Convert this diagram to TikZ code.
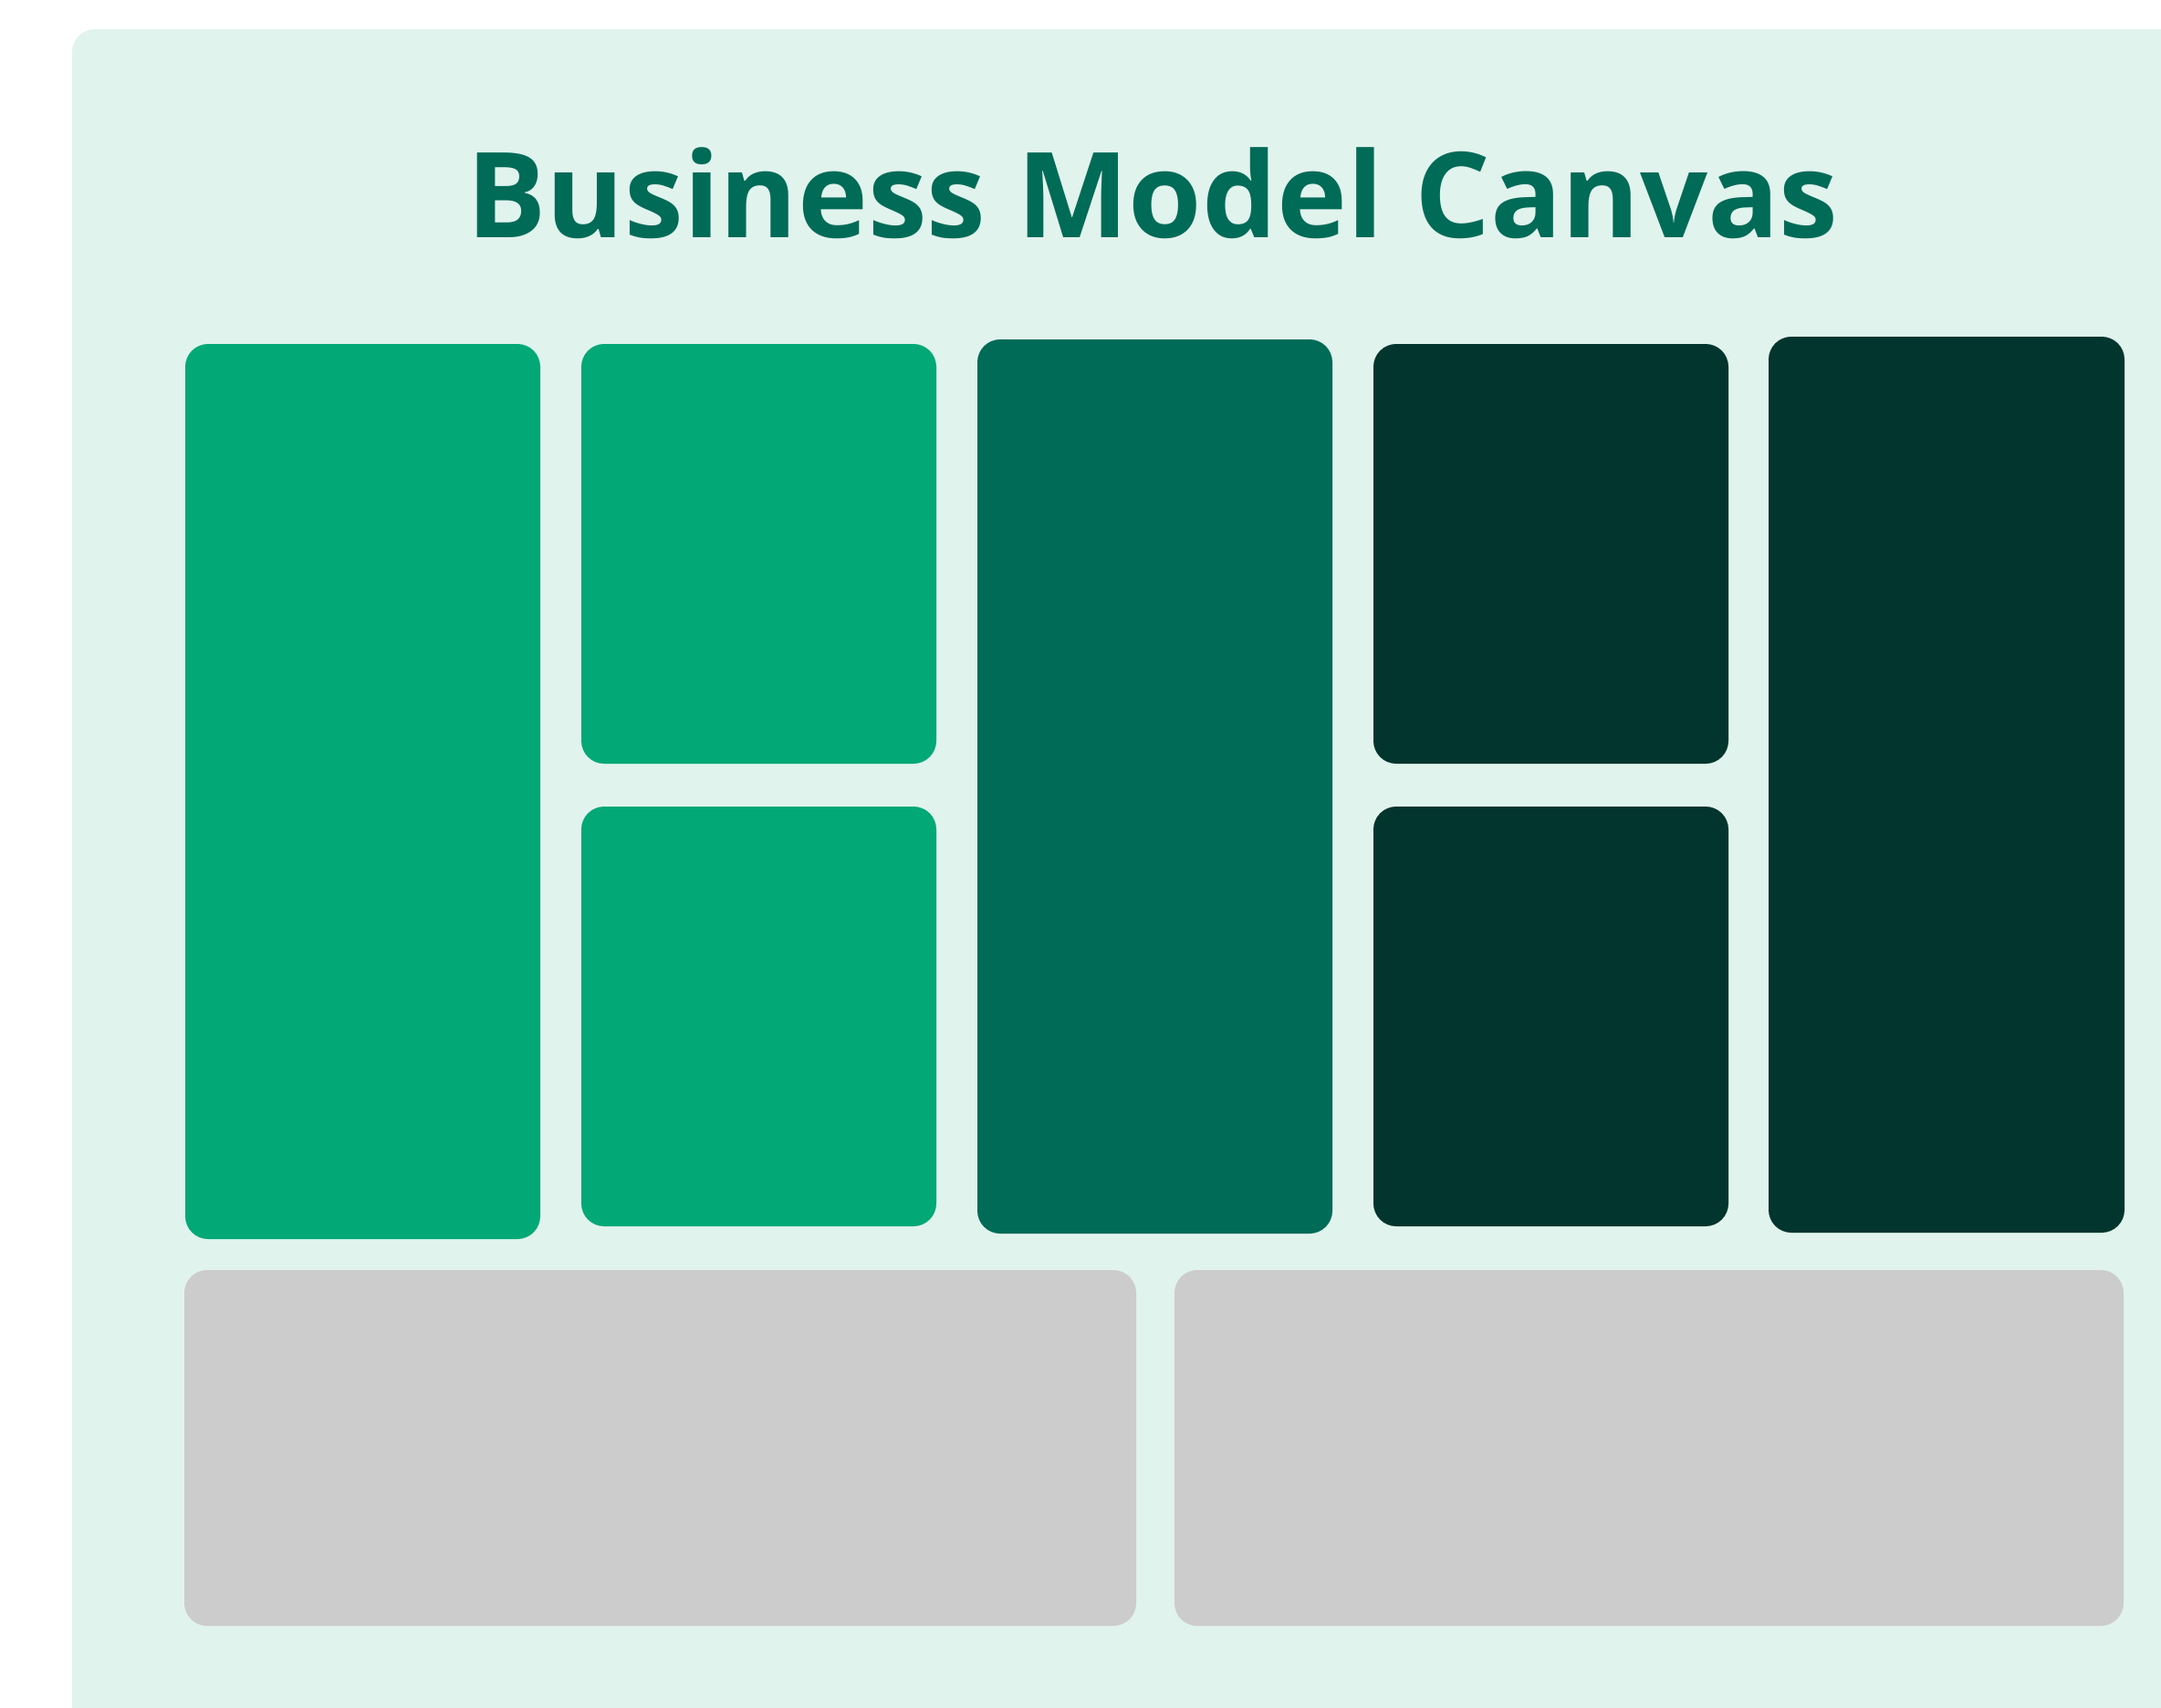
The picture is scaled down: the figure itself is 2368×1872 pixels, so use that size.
\documentclass[tikz,border=0pt]{standalone}
\usepackage{fontspec}
\setmainfont{Open Sans}
\usepackage{tikz}

\definecolor{panelbg}{HTML}{E1F3ED}
\definecolor{bmcgreen}{HTML}{02A876}
\definecolor{bmcmid}{HTML}{006B57}
\definecolor{bmcdark}{HTML}{02352D}
\definecolor{bmcgrey}{HTML}{CCCCCC}

\begin{document}
\begin{tikzpicture}[x=0.01cm,y=-0.01cm,
  block/.style={rectangle,rounded corners=0.25cm,inner sep=0pt,outer sep=0pt},
  title/.style={font=\bfseries\fontsize{37}{44}\selectfont,text=bmcmid,inner sep=0pt,anchor=base}]
\useasboundingbox (0,0) rectangle (2368,1872);
\begin{scope}
\clip (0,0) rectangle (2368,1872);
\fill[panelbg,rounded corners=0.25cm] (79,32) rectangle (2450,1950);
\end{scope}

\node[title] (title) at (1263,260) {Business Model Canvas};

% name / left / top / right / bottom / colour
\foreach \n/\xa/\ya/\xb/\yb/\c in {
	keypartners/203/377/592/1358/bmcgreen,
	keyactivities/637/377/1026/837/bmcgreen,
	keyresources/637/884/1026/1344/bmcgreen,
	valueprop/1071/372/1460/1352/bmcmid,
	relations/1505/377/1894/837/bmcdark,
	channels/1505/884/1894/1344/bmcdark,
	segments/1938/369/2328/1351/bmcdark,
	coststructure/202/1392/1245/1782/bmcgrey,
	revenue/1287/1392/2327/1782/bmcgrey}
	{
	\node[block,fill=\c,minimum width={(\xb-\xa)*0.01cm},minimum height={(\yb-\ya)*0.01cm}]
		(\n) at ({(\xa+\xb)/2},{(\ya+\yb)/2}) {};
	}
\end{tikzpicture}
\end{document}
